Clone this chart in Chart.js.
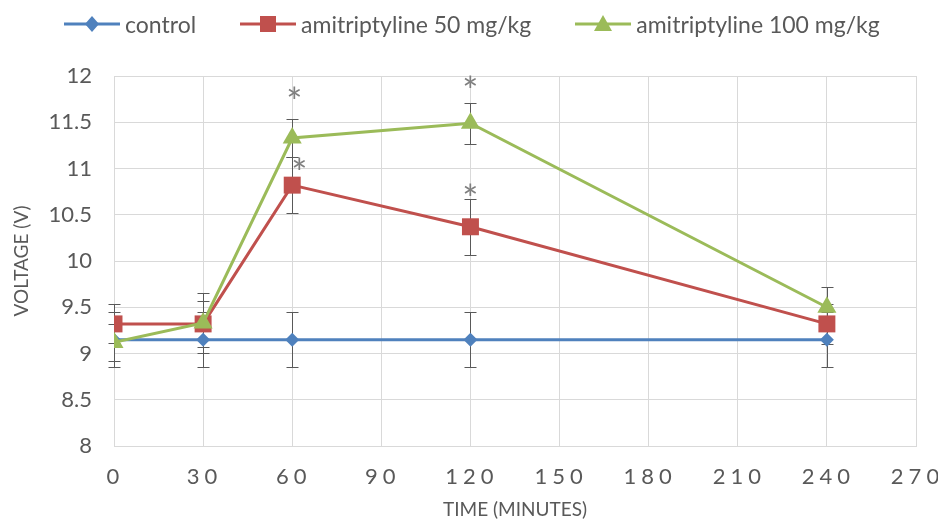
<!DOCTYPE html>
<html>
<head>
<meta charset="utf-8">
<script src="https://cdn.jsdelivr.net/npm/chart.js@4.4.0/dist/chart.umd.min.js"></script>
<style>
  html, body { margin: 0; padding: 0; background: #fff; }
  #wrap { position: relative; width: 938px; height: 521px; }
  #legend {
    position: absolute; top: 10px; left: 64px;
    display: flex; align-items: center; gap: 44px;
    font-family: Lato, sans-serif; font-size: 23px; color: #595959;
  }
  .item { display: flex; align-items: center; gap: 5px; }
  .item svg { display: block; }
</style>
</head>
<body>
<div id="wrap">
  <div id="legend"></div>
  <canvas id="chart" width="938" height="521"></canvas>
</div>
<script>
const times = [0, 30, 60, 120, 240];
const control = [9.15, 9.15, 9.15, 9.15, 9.15];
const amit50 = [9.32, 9.32, 10.82, 10.37, 9.32];
const amit100 = [9.12, 9.33, 11.33, 11.49, 9.5];
// standard errors
const controlErr = [0.3, 0.3, 0.3, 0.3, 0.3];
const amit50Err = [0.21, 0.25, 0.3, 0.3, 0.22];
const amit100Err = [0.2, 0.32, 0.21, 0.22, 0.22];
// level where the significance asterisk sits (null = none)
const amit50Star = [null, null, 11.03, 10.75, null];
const amit100Star = [null, null, 11.8, 11.92, null];

const blue = '#4F81BD', red = '#C0504D', green = '#9BBB59';

const series = [
  { label: 'control', values: control, err: controlErr, stars: [], starDx: [], color: blue, style: 'rectRot', r: 7, order: 3 },
  { label: 'amitriptyline 50 mg/kg', values: amit50, err: amit50Err, stars: amit50Star, starDx: [0, 0, 7, 0, 0], color: red, style: 'rect', r: 12, order: 2 },
  { label: 'amitriptyline 100 mg/kg', values: amit100, err: amit100Err, stars: amit100Star, starDx: [0, 0, 2, 0, 0], color: green, style: 'triangle', r: 11, order: 1 }
];

// html legend
const markers = {
  rectRot: c => `<polygon points="28,4 35,12 28,20 21,12" fill="${c}"/>`,
  rect: c => `<rect x="20" y="4" width="16" height="16" fill="${c}"/>`,
  triangle: c => `<polygon points="28,3 37,19 19,19" fill="${c}"/>`
};
document.getElementById('legend').innerHTML = series.map(s =>
  `<div class="item"><svg width="56" height="24"><line x1="0" y1="12" x2="56" y2="12" stroke="${s.color}" stroke-width="3"/>${markers[s.style](s.color)}</svg><span>${s.label}</span></div>`
).join('');

const errorBars = {
  id: 'errorBars',
  beforeDatasetsDraw(chart) {
    const { ctx, scales: { x, y } } = chart;
    ctx.save();
    ctx.strokeStyle = '#595959';
    ctx.lineWidth = 1;
    chart.data.datasets.forEach(ds => {
      ds.data.forEach((p, i) => {
        const e = ds.err[i];
        const px = Math.round(x.getPixelForValue(p.x)) + 0.5;
        const top = Math.round(y.getPixelForValue(p.y + e)) + 0.5;
        const bot = Math.round(y.getPixelForValue(p.y - e)) + 0.5;
        ctx.beginPath();
        ctx.moveTo(px, top); ctx.lineTo(px, bot);
        ctx.moveTo(px - 6, top); ctx.lineTo(px + 6, top);
        ctx.moveTo(px - 6, bot); ctx.lineTo(px + 6, bot);
        ctx.stroke();
      });
    });
    ctx.restore();
  },
  afterDatasetsDraw(chart) {
    const { ctx, scales: { x, y } } = chart;
    ctx.save();
    ctx.fillStyle = '#7F7F7F';
    ctx.font = '38px Lato';
    ctx.textAlign = 'center';
    ctx.textBaseline = 'middle';
    chart.data.datasets.forEach(ds => {
      ds.stars.forEach((s, i) => {
        if (s == null) return;
        ctx.fillText('*', x.getPixelForValue(times[i]) + (ds.starDx[i] || 0), y.getPixelForValue(s) + 9);
      });
    });
    ctx.restore();
  }
};

// spaced-out x tick labels, like the original
const spacedX = {
  id: 'spacedX',
  afterLayout(chart) {
    const sc = chart.scales.x;
    if (sc._spaced) return;
    const orig = sc.drawLabels;
    sc.drawLabels = function (area) {
      const ctx = this.ctx;
      ctx.save();
      ctx.letterSpacing = '5px';
      ctx.translate(1.5, 0);
      orig.call(this, area);
      ctx.restore();
    };
    sc._spaced = true;
  }
};

Chart.defaults.font.family = 'Lato, sans-serif';
Chart.defaults.color = '#595959';

new Chart(document.getElementById('chart'), {
  type: 'line',
  data: {
    datasets: series.map(s => ({
      label: s.label,
      data: times.map((t, i) => ({ x: t, y: s.values[i] })),
      err: s.err,
      stars: s.stars,
      starDx: s.starDx,
      borderColor: s.color,
      backgroundColor: s.color,
      borderWidth: 3,
      pointStyle: s.style,
      pointRadius: s.r,
      pointBorderWidth: 0,
      order: s.order,
      tension: 0
    }))
  },
  options: {
    responsive: false,
    animation: false,
    layout: { padding: { top: 76, right: 22, left: 0, bottom: 0 } },
    plugins: { legend: { display: false }, tooltip: { enabled: false } },
    scales: {
      x: {
        type: 'linear', min: 0, max: 270,
        ticks: { stepSize: 30, font: { size: 22 }, padding: 18 },
        grid: { color: '#D9D9D9', tickLength: 0 },
        border: { color: '#D9D9D9' },
        title: { display: true, text: 'TIME (MINUTES)', font: { size: 19 }, padding: { top: 4, bottom: 0 } },
        afterFit(sc) { sc.height = 75; sc.paddingRight = 0; }
      },
      y: {
        min: 8, max: 12,
        ticks: { stepSize: 0.5, font: { size: 22 }, padding: 22, callback: v => String(+v.toFixed(1)) },
        grid: { color: '#D9D9D9', tickLength: 0 },
        border: { display: false },
        title: { display: true, text: 'VOLTAGE (V)', font: { size: 19 }, padding: { top: 10, bottom: 0 } },
        afterFit(sc) { sc.width = 114; }
      }
    }
  },
  plugins: [errorBars, spacedX]
});
</script>
</body>
</html>
